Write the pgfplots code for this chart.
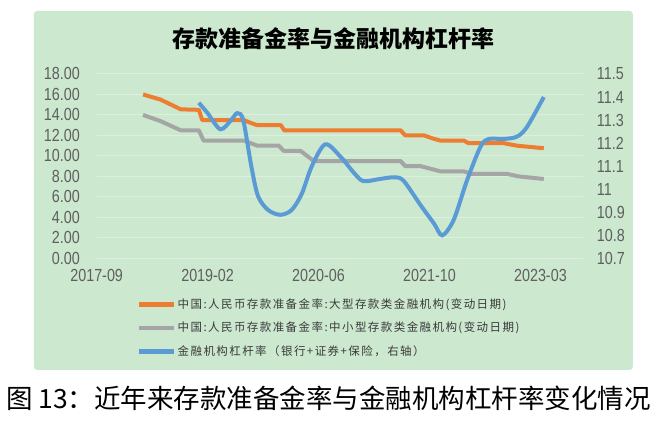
\documentclass[border=0pt]{standalone}
\usepackage{fontspec}
\usepackage{pgfplots}
\pgfplotsset{compat=1.18}
\newfontfamily\cjk{Noto Sans CJK SC}
\newfontfamily\legfont{Noto Sans CJK SC}[LetterSpace=12.5]
\newfontfamily\tickfont{Liberation Sans}[FakeStretch=0.82]
\definecolor{bg}{RGB}{204,232,207}
\definecolor{gridc}{RGB}{221,240,223}
\definecolor{orangeS}{RGB}{237,125,49}
\definecolor{grayS}{RGB}{165,165,165}
\definecolor{blueS}{RGB}{91,155,213}
\definecolor{tickc}{RGB}{95,95,95}
\definecolor{legc}{RGB}{58,58,58}
\begin{document}
\begin{tikzpicture}[x=1pt,y=1pt]
\fill[white] (0,0) rectangle (654,425);
\fill[bg, rounded corners=3pt] (34,55) rectangle (633,414);
\node[font={\cjk\bfseries\fontsize{23}{23}\selectfont}] at (333.5,386) {存款准备金率与金融机构杠杆率};
\node[font={\cjk\fontsize{26.5}{26.5}\selectfont}] at (328.5,27) {图 13：近年来存款准备金率与金融机构杠杆率变化情况};
\begin{axis}[
  at={(96.7pt,166.5pt)}, anchor=south west,
  scale only axis, width=486.3pt, height=184.5pt,
  xmin=0, xmax=72.3, ymin=0, ymax=18,
  axis x line*=bottom, axis y line*=left,
  axis line style={draw=none},
  major tick length=0pt,
  xtick={0,16.5,33,49.5,66},
  xticklabels={2017-09,2019-02,2020-06,2021-10,2023-03},
  ytick={0,2,...,18},
  ymajorgrids,
  major grid style={gridc, line width=1pt},
  /pgf/number format/assume math mode=true,
  yticklabel style={font={\tickfont\fontsize{17.5}{17.5}\selectfont}, text=tickc, anchor=east, inner sep=0pt, xshift=-16.7pt,
    /pgf/number format/fixed, /pgf/number format/fixed zerofill, /pgf/number format/precision=2},
  xticklabel style={font={\tickfont\fontsize{17.5}{17.5}\selectfont}, text=tickc, anchor=north, inner sep=0pt, yshift=-10.5pt},
  legend cell align=left,
  legend image code/.code={\draw[#1, line width=4.5pt] (0pt,0.5pt) -- (35pt,0.5pt);},
  legend style={at={(axis description cs:0.0829,-0.216)}, anchor=north west, draw=none, fill=none, inner sep=0pt,
    row sep=10.5pt, column sep=1pt,
    nodes={inner sep=0pt, text height=10pt, text depth=3pt, font={\legfont\fontsize{11.5}{11.5}\selectfont}, text=legc}},
]
\addplot[orangeS, line width=4pt, line join=round] coordinates {
(6.9,16.0) (9.5,15.5) (12.5,14.55) (15.2,14.5) (15.7,13.5) (21.9,13.5) (23.0,13.2) (23.9,13.0) (27.4,13.0) (27.9,12.5)
(45.2,12.5) (45.9,12.0) (48.7,12.0) (50.0,11.7) (51.1,11.5) (54.6,11.5) (55.3,11.25) (60.5,11.25) (62.5,11.0) (66.5,10.75)};
\addlegendentry{中国:人民币存款准备金率:大型存款类金融机构(变动日期)}
\addplot[grayS, line width=4pt, line join=round] coordinates {
(6.9,14.0) (9.5,13.4) (12.5,12.5) (15.2,12.5) (15.9,11.5) (21.9,11.5) (23.9,11.0) (27.1,11.0) (27.8,10.5) (30.3,10.5)
(32.3,9.5) (45.2,9.5) (45.9,9.0) (48.2,9.0) (51.1,8.5) (54.6,8.5) (55.8,8.25) (61.0,8.25) (62.8,8.0) (66.5,7.75)};
\addlegendentry{中国:人民币存款准备金率:中小型存款类金融机构(变动日期)}
\addlegendimage{blueS, line width=4pt}
\addlegendentry{金融机构杠杆率（银行+证券+保险，右轴）}
\end{axis}
\begin{axis}[
  at={(96.7pt,166.5pt)}, anchor=south west,
  scale only axis, width=486.3pt, height=184.5pt,
  xmin=0, xmax=72.3, ymin=10.7, ymax=11.5,
  hide x axis, axis y line*=right,
  axis line style={draw=none},
  major tick length=0pt,
  ytick={10.7,10.8,10.9,11,11.1,11.2,11.3,11.4,11.5},
  /pgf/number format/assume math mode=true,
  yticklabel style={font={\tickfont\fontsize{17.5}{17.5}\selectfont}, text=tickc, anchor=west, inner sep=0pt, xshift=14pt,
    /pgf/number format/fixed, /pgf/number format/precision=1},
]
\addplot[blueS, line width=4pt, smooth, tension=0.5] coordinates {
(15.2,11.375) (16.5,11.33) (18.4,11.26) (20.0,11.30) (20.9,11.33) (21.8,11.30) (23.0,11.10) (24.0,10.97) (25.5,10.91)
(27.3,10.889) (29.0,10.91) (30.5,10.98) (32.0,11.10) (34.0,11.195) (36.3,11.14) (38.3,11.07) (39.7,11.035) (42.2,11.045)
(44.4,11.052) (45.7,11.035) (48.2,10.93) (50.2,10.85) (51.4,10.80) (53.1,10.867) (55.1,11.04) (57.1,11.185) (58.3,11.218)
(60.5,11.218) (62.5,11.228) (64.0,11.27) (66.5,11.40)};
\end{axis}
\end{tikzpicture}
\end{document}
